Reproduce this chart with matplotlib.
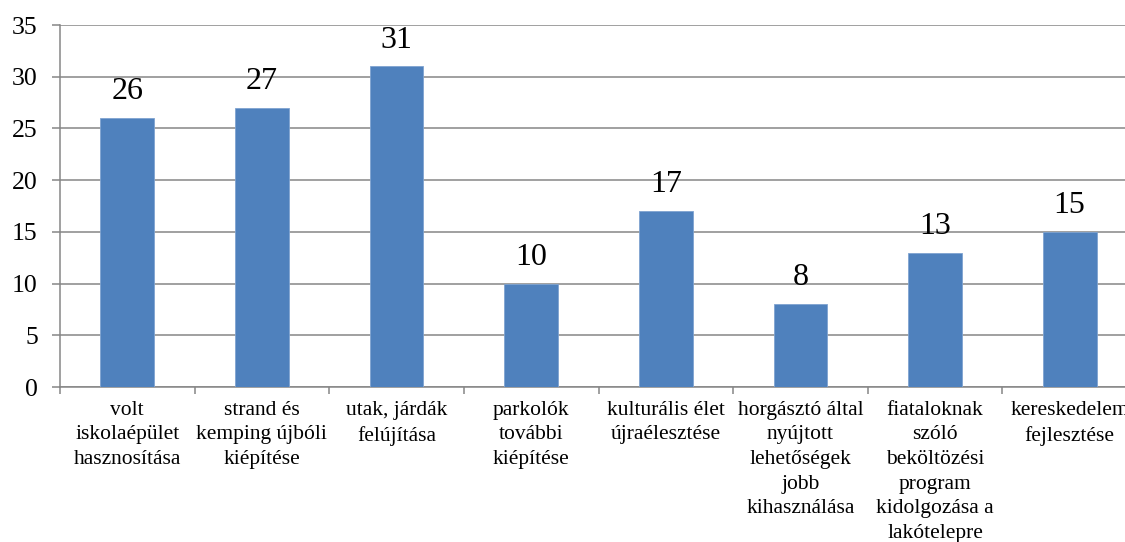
import matplotlib.pyplot as plt
import numpy as np

# Data
categories = [
    "volt\niskolaépület\nhasznosítása",
    "strand és\nkemping újbóli\nkiépítése",
    "utak, járdák\nfelújítása",
    "parkolók\ntovábbi\nkiépítése",
    "kulturális élet\nújraélesztése",
    "horgásztó által\nnyújtott\nlehetőségek\njobb\nkihasználása",
    "fiataloknak\nszóló\nbeköltözési\nprogram\nkidolgozása a\nlakótelepre",
    "kereskedelem\nfejlesztése",
]
values = [26, 27, 31, 10, 17, 8, 13, 15]
y_ticks = [0, 5, 10, 15, 20, 25, 30, 35]

plt.rcParams['font.family'] = ['Liberation Serif', 'DejaVu Serif']

fig = plt.figure(figsize=(11.25, 5.42), dpi=100)
W, H = 1125, 542
ax = fig.add_axes([60 / W, 1 - 387 / H, 1077 / W, 362 / H])

x = np.arange(len(values))
bars = ax.bar(x, values, width=0.4, color='#4F81BD', edgecolor='#7FA3D1',
              linewidth=0.6, zorder=3)

for xi, v in zip(x, values):
    ax.annotate(str(v), (xi, v), xytext=(0, 8.5), textcoords='offset points',
                ha='center', va='bottom', fontsize=23, zorder=4)

ax.set_xlim(-0.5, len(values) - 0.5)
ax.set_ylim(0, 35)
ax.set_yticks(y_ticks)
ax.yaxis.grid(True, color='#868686', linewidth=1.1, zorder=0)
ax.set_axisbelow(True)

ax.set_xticks(x)
ax.set_xticklabels(categories, fontsize=15.5, linespacing=1.4)
ax.set_xticks(np.arange(len(values) + 1) - 0.5, minor=True)
ax.tick_params(axis='x', which='major', length=0, pad=10)
ax.tick_params(axis='x', which='minor', length=5, width=1.1, color='#868686')
ax.tick_params(axis='y', length=6, width=1.1, color='#868686', labelsize=18.5, pad=10)

for s in ['top', 'right']:
    ax.spines[s].set_visible(False)
for s in ['left', 'bottom']:
    ax.spines[s].set_color('#868686')
    ax.spines[s].set_linewidth(1.1)

fig.savefig('out.png', dpi=100)
